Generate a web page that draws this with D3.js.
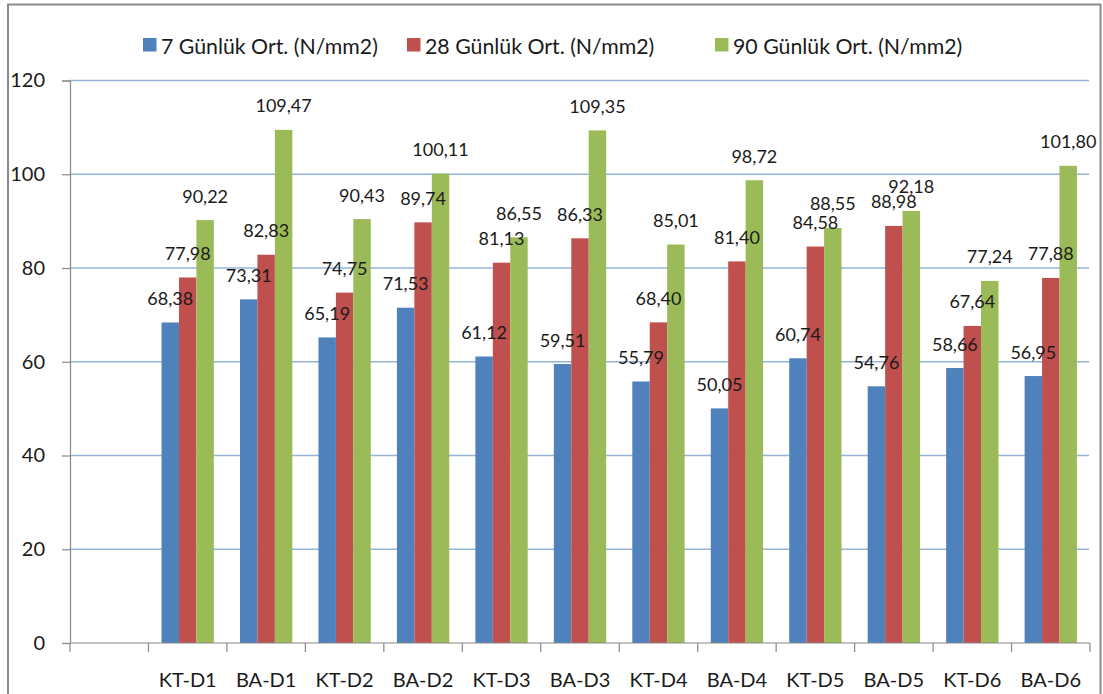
<!DOCTYPE html>
<html>
<head>
<meta charset="utf-8">
<script src="https://cdn.jsdelivr.net/npm/d3@7"></script>
<style>
  html, body { margin: 0; padding: 0; background: #fff; }
  svg { display: block; font-family: Lato, "Open Sans", sans-serif; }
</style>
</head>
<body>
<svg id="chart" width="1103" height="694"></svg>
<script>
// Sample groups (the first slot of the axis is left empty)
const categories = ["KT-D1", "BA-D1", "KT-D2", "BA-D2", "KT-D3", "BA-D3",
                    "KT-D4", "BA-D4", "KT-D5", "BA-D5", "KT-D6", "BA-D6"];

// Mean compressive strength, N/mm2
const day7  = [68.38, 73.31, 65.19, 71.53, 61.12, 59.51, 55.79, 50.05, 60.74, 54.76, 58.66, 56.95];
const day28 = [77.98, 82.83, 74.75, 89.74, 81.13, 86.33, 68.40, 81.40, 84.58, 88.98, 67.64, 77.88];
const day90 = [90.22, 109.47, 90.43, 100.11, 86.55, 109.35, 85.01, 98.72, 88.55, 92.18, 77.24, 101.80];

const seriesNames  = ["7 Günlük Ort. (N/mm2)", "28 Günlük Ort. (N/mm2)", "90 Günlük Ort. (N/mm2)"];
const seriesColors = ["#4F81BD", "#C0504D", "#9BBB59"];
const yTicks = [0, 20, 40, 60, 80, 100, 120];

const series = [day7, day28, day90].map((vals, i) => ({
  name: seriesNames[i], color: seriesColors[i], values: vals
}));

const svg = d3.select("#chart");

// frame around the chart area
svg.append("rect")
  .attr("x", 8).attr("y", 4.5)
  .attr("width", 1092.5).attr("height", 700)
  .attr("fill", "none").attr("stroke", "#8a8a8a").attr("stroke-width", 2);

const plot = { left: 70, right: 1090, top: 80.5, bottom: 643 };

const x = d3.scaleBand()
  .domain([""].concat(categories))
  .range([plot.left, plot.right])
  .paddingInner(0).paddingOuter(0);

const barW = x.bandwidth() / 4.5;
const groupOffset = (x.bandwidth() - 3 * barW) / 2;

const y = d3.scaleLinear().domain([0, 120]).range([plot.bottom, plot.top]);

// horizontal gridlines
svg.append("g")
  .selectAll("line")
  .data(yTicks.filter(t => t > 0))
  .join("line")
  .attr("x1", plot.left).attr("x2", plot.right - 1)
  .attr("y1", d => y(d)).attr("y2", d => y(d))
  .attr("stroke", "#95B3D7").attr("stroke-width", 1.6);

const points = series.flatMap((s, si) =>
  s.values.map((v, i) => ({ cat: categories[i], v, si, color: s.color })));

// bars
svg.append("g")
  .selectAll("rect")
  .data(points)
  .join("rect")
  .attr("fill", d => d.color)
  .attr("x", d => x(d.cat) + groupOffset + d.si * barW)
  .attr("y", d => y(d.v))
  .attr("width", barW)
  .attr("height", d => y(0) - y(d.v));

// y axis
const yAxis = svg.append("g")
  .attr("transform", `translate(${plot.left},0)`)
  .call(d3.axisLeft(y).tickValues(yTicks).tickSize(8).tickPadding(17).tickFormat(d3.format("d")));
yAxis.select(".domain").attr("stroke", "#888").attr("stroke-width", 1.2);
yAxis.selectAll(".tick line").attr("stroke", "#888").attr("stroke-width", 1.2);
yAxis.selectAll(".tick text")
  .attr("font-size", 20).attr("fill", "#1a1a1a")
  .attr("font-family", "Lato, sans-serif");

// x axis with ticks on band boundaries
const xAxisG = svg.append("g").attr("transform", `translate(0,${plot.bottom})`);
xAxisG.append("line")
  .attr("x1", plot.left).attr("x2", plot.right)
  .attr("stroke", "#888").attr("stroke-width", 1.2);
const boundaries = x.domain().map(d => x(d)).concat([plot.right]);
xAxisG.selectAll("line.tk")
  .data(boundaries)
  .join("line").attr("class", "tk")
  .attr("x1", d => d).attr("x2", d => d)
  .attr("y1", 0).attr("y2", 9)
  .attr("stroke", "#888").attr("stroke-width", 1.2);
xAxisG.selectAll("text")
  .data(categories)
  .join("text")
  .attr("x", d => x(d) + x.bandwidth() / 2)
  .attr("y", 44)
  .attr("text-anchor", "middle")
  .attr("font-size", 20).attr("fill", "#1a1a1a")
  .text(d => d);

// value labels above each bar, decimal comma; drawn over all bars
const fmt = d3.formatLocale({ decimal: ",", thousands: ".", grouping: [3], currency: ["", ""] }).format(".2f");
svg.append("g")
  .selectAll("text")
  .data(points)
  .join("text")
  .attr("x", d => x(d.cat) + groupOffset + d.si * barW + barW / 2)
  .attr("y", d => y(d.v) - 17.5)
  .attr("text-anchor", "middle")
  .attr("font-size", 18).attr("fill", "#1a1a1a")
  .text(d => fmt(d.v));

// legend
const legendX = [143, 407, 715];
const legend = svg.append("g")
  .selectAll("g")
  .data(series)
  .join("g")
  .attr("transform", (d, i) => `translate(${legendX[i]},38)`);
legend.append("rect")
  .attr("width", 13.5).attr("height", 13.5)
  .attr("fill", d => d.color);
legend.append("text")
  .attr("x", 18).attr("y", 15.5)
  .attr("font-size", 21.3).attr("fill", "#1a1a1a")
  .text(d => d.name);
</script>
</body>
</html>
